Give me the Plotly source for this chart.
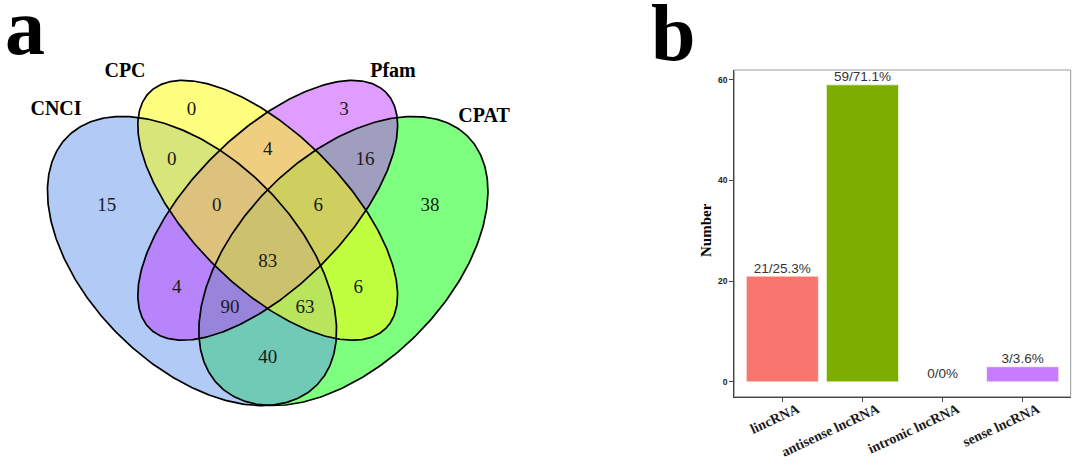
import numpy as np
import plotly.graph_objects as go

# ---------------- Data ----------------
# Panel a: 4-set Venn diagram region counts
set_names = ["CNCI", "CPC", "Pfam", "CPAT"]
region_keys = ["CNCI", "CPC", "Pfam", "CPAT",
               "CNCI&CPC", "CPC&Pfam", "Pfam&CPAT",
               "CNCI&Pfam", "CPC&CPAT", "CNCI&CPAT",
               "CNCI&CPC&Pfam", "CPC&Pfam&CPAT",
               "CNCI&Pfam&CPAT", "CNCI&CPC&CPAT", "ALL"]
region_counts = [15, 0, 3, 38, 0, 4, 16, 4, 6, 40, 0, 6, 90, 63, 83]

# Panel b: lncRNA classes
categories = ["lincRNA", "antisense lncRNA", "intronic lncRNA", "sense lncRNA"]
counts = [21, 59, 0, 3]
percents = ["25.3%", "71.1%", "0%", "3.6%"]

# ---------------- Styles / layout ----------------
W, H = 1079, 469
set_fill = {"CNCI": "rgba(100,149,237,0.5)", "CPC": "rgba(255,255,0,0.5)",
            "Pfam": "rgba(191,62,255,0.5)", "CPAT": "rgba(0,255,0,0.5)"}
# ellipse geometry in pixel space of panel a: (cx, cy, semi-major, semi-minor, angle)
axis_x = 267.7
ell_geom = {"CNCI": (192.0, 261.0, 176.0, 104.0, 45.0),
            "CPC": (axis_x, 210.3, 167.0, 76.5, 45.0),
            "Pfam": (axis_x, 210.3, 167.0, 76.5, -45.0),
            "CPAT": (2 * axis_x - 192.0, 261.0, 176.0, 104.0, -45.0)}
draw_order = ["CPAT", "CNCI", "Pfam", "CPC"]
set_label_pos = {"CNCI": (56, 110), "CPC": (125, 72), "Pfam": (393, 72), "CPAT": (484, 117)}
region_pos = {"CNCI": (106.7, 206), "CPC": (191.5, 110), "Pfam": (344, 110), "CPAT": (430, 206),
              "CNCI&CPC": (171.7, 160), "CPC&Pfam": (axis_x, 150), "Pfam&CPAT": (365, 160),
              "CNCI&Pfam": (176.7, 288.3), "CPC&CPAT": (358.3, 288.3), "CNCI&CPAT": (axis_x, 358.3),
              "CNCI&CPC&Pfam": (216.7, 206), "CPC&Pfam&CPAT": (318.3, 206.7),
              "CNCI&Pfam&CPAT": (230, 308.3), "CNCI&CPC&CPAT": (305, 308.3), "ALL": (axis_x, 262.7)}
bar_colors = ["#F8766D", "#7CAE00", "#00BFC4", "#C77CFF"]

SERIF = "Liberation Serif, Times New Roman, serif"
SANS = "Liberation Sans, Arial, sans-serif"


def ellipse_pts(cx, cy, a, b, ang):
    t = np.linspace(0, 2 * np.pi, 400)
    th = np.deg2rad(ang)
    x = cx + a * np.cos(t) * np.cos(th) - b * np.sin(t) * np.sin(th)
    y = cy + a * np.cos(t) * np.sin(th) + b * np.sin(t) * np.cos(th)
    return x, y


fig = go.Figure()

# fills
for s in draw_order:
    x, y = ellipse_pts(*ell_geom[s])
    fig.add_trace(go.Scatter(x=x, y=y, mode="lines", fill="toself", fillcolor=set_fill[s],
                             line=dict(width=0), hoverinfo="skip", showlegend=False,
                             xaxis="x", yaxis="y"))
# outlines
for s in draw_order:
    x, y = ellipse_pts(*ell_geom[s])
    fig.add_trace(go.Scatter(x=x, y=y, mode="lines", line=dict(color="black", width=1.7),
                             hoverinfo="skip", showlegend=False, xaxis="x", yaxis="y"))
# region counts
fig.add_trace(go.Scatter(x=[region_pos[k][0] for k in region_keys],
                         y=[region_pos[k][1] for k in region_keys],
                         text=[str(v) for v in region_counts], mode="text",
                         textposition="middle center",
                         textfont=dict(family=SERIF, size=19, color="#1a1a1a"),
                         hoverinfo="skip", showlegend=False, xaxis="x", yaxis="y"))
# set names
fig.add_trace(go.Scatter(x=[set_label_pos[s][0] for s in set_names],
                         y=[set_label_pos[s][1] for s in set_names],
                         text=["<b>%s</b>" % s for s in set_names], mode="text",
                         textposition="middle center",
                         textfont=dict(family=SERIF, size=20, color="black"),
                         hoverinfo="skip", showlegend=False, xaxis="x", yaxis="y"))

# ---------------- Panel b ----------------
fig.add_trace(go.Bar(x=categories, y=counts, marker=dict(color=bar_colors, line=dict(color="white", width=0.6)),
                     width=0.9, xaxis="x2", yaxis="y2", showlegend=False, hoverinfo="skip"))
fig.add_trace(go.Scatter(x=categories, y=counts, mode="text",
                         text=["%d/%s" % (c, p) for c, p in zip(counts, percents)],
                         textposition="top center",
                         textfont=dict(family=SANS, size=13.5, color="#333333"),
                         xaxis="x2", yaxis="y2", showlegend=False, hoverinfo="skip"))

left, right, top, bottom = 734.3, 1070.7, 70.0, 396.7

fig.update_layout(
    width=W, height=H, margin=dict(l=0, r=0, t=0, b=0),
    paper_bgcolor="white", plot_bgcolor="white",
    xaxis=dict(domain=[0, 540 / W], range=[0, 540], visible=False, fixedrange=True, automargin=False),
    yaxis=dict(domain=[0, 1], range=[H, 0], visible=False, fixedrange=True, automargin=False),
    xaxis2=dict(domain=[left / W, right / W], anchor="y2", range=[-0.6, 3.6], automargin=False,
                type="category", showline=True, linecolor="#444444", linewidth=1.4,
                ticks="outside", ticklen=4, tickcolor="#444444", tickwidth=1,
                tickangle=-25, ticklabelshift=15, ticklabelstandoff=-6,
                tickfont=dict(family=SERIF, size=14, color="#1a1a1a", weight="bold"),
                showgrid=False, zeroline=False),
    yaxis2=dict(domain=[(H - bottom) / H, (H - top) / H], anchor="x2", range=[-2.95, 61.95],
                automargin=False,
                tickvals=[0, 20, 40, 60], ticktext=["<b>0</b>", "<b>20</b>", "<b>40</b>", "<b>60</b>"],
                showline=True, linecolor="#444444", linewidth=1.4,
                ticks="outside", ticklen=4, tickcolor="#444444", tickwidth=1,
                tickfont=dict(family=SANS, size=8.5, color="#222222"),
                showgrid=False, zeroline=False),
    shapes=[dict(type="rect", xref="paper", yref="paper",
                 x0=left / W, x1=right / W, y0=(H - bottom) / H, y1=(H - top) / H,
                 line=dict(color="#9a9a9a", width=1), layer="below")],
    annotations=[
        dict(text="<b>a</b>", x=25 / W, y=1 - 27 / H, xref="paper", yref="paper",
             showarrow=False, xanchor="center", yanchor="middle",
             font=dict(family=SERIF, size=80, color="black")),
        dict(text="<b>b</b>", x=673 / W, y=1 - 33 / H, xref="paper", yref="paper",
             showarrow=False, xanchor="center", yanchor="middle",
             font=dict(family=SERIF, size=80, color="black")),
        dict(text="<b>Number</b>", x=706 / W, y=1 - 230 / H, xref="paper", yref="paper",
             showarrow=False, textangle=-90, xanchor="center", yanchor="middle",
             font=dict(family=SERIF, size=15, color="black")),
    ],
)

fig.write_html("out.html", config={"displayModeBar": False},
               post_script="document.body.style.margin='0';")
